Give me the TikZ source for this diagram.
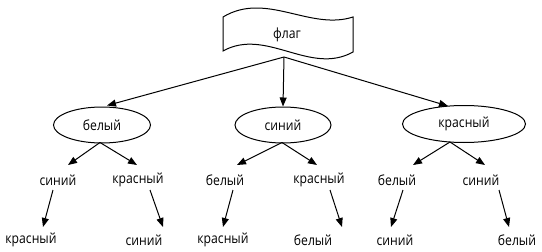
\documentclass[tikz,border=0pt]{standalone}
\usepackage{fontspec}
\setmainfont{Open Sans}[FakeStretch=0.87]
\usetikzlibrary{shapes.geometric,calc,arrows.meta}
\begin{document}
\begin{tikzpicture}[x=1pt,y=-1pt,
  lbl/.style={font=\fontsize{14}{16}\selectfont, inner sep=0pt},
  ell/.style={ellipse, draw, line width=1pt, inner sep=0pt, minimum height=36pt, font=\fontsize{14}{16}\selectfont},
  arr/.style={-{Triangle[length=9pt,width=7pt]}, line width=1pt},
  flagline/.style={draw, line width=1pt}]
\useasboundingbox (0,0) rectangle (542,252);
% flag shape
\path[flagline] (223,17) .. controls (266,-9) and (310,31) .. (353,17) -- (353,52)
  .. controls (310,76) and (266,27) .. (223,51) -- cycle;
\node[lbl] (flag) at (287,35) {флаг};
\coordinate (fb) at (284,57);
% level 1
\node[ell, minimum width=97pt] (e1) at (102,125) {белый};
\node[ell, minimum width=96pt] (e2) at (283,125) {синий};
\node[ell, minimum width=123pt, minimum height=37pt] (e3) at (464,124) {красный};
% level 2
\node[lbl] (s1) at (58,180) {синий};
\node[lbl] (k1) at (138,180) {красный};
\node[lbl] (b2) at (225,180) {белый};
\node[lbl] (k2) at (319,180) {красный};
\node[lbl] (b3) at (397,180) {белый};
\node[lbl] (s3) at (481,180) {синий};
% level 3
\node[lbl] (k11) at (31,240) {красный};
\node[lbl] (s12) at (144,240) {синий};
\node[lbl] (k21) at (223,240) {красный};
\node[lbl] (b22) at (313,240) {белый};
\node[lbl] (s31) at (395,240) {синий};
\node[lbl] (b32) at (517,240) {белый};
% arrows flag -> level 1
\draw[arr] (fb) -- ($(e1.north)+(5,-1)$);
\draw[arr] (fb) -- (e2.north);
\draw[arr] (fb) -- ($(e3.north)+(-16,1)$);
% level 1 -> level 2
\draw[arr] ($(e1.south)+(-2,-1)$) -- ($(s1)+(10,-15)$);
\draw[arr] ($(e1.south)+(-2,-1)$) -- ($(k1)+(-1,-15)$);
\draw[arr] ($(e2.south)+(-1,-1)$) -- ($(b2)+(12,-15)$);
\draw[arr] ($(e2.south)+(-1,-1)$) -- ($(k2)+(-2,-15)$);
\draw[arr] ($(e3.south)+(-14,-1)$) -- ($(b3)+(16,-15)$);
\draw[arr] ($(e3.south)+(-14,-1)$) -- ($(s3)+(4,-15)$);
% level 2 -> level 3
\draw[arr] ($(s1)+(-5,10)$) -- ($(k11)+(12,-13)$);
\draw[arr] ($(k1)+(12,10)$) -- ($(s12)+(19,-13)$);
\draw[arr] ($(b2)+(8,10)$) -- ($(k21)+(0,-13)$);
\draw[arr] ($(k2)+(11,10)$) -- ($(b22)+(29,-13)$);
\draw[arr] ($(b3)+(6,10)$) -- ($(s31)+(-4,-13)$);
\draw[arr] ($(s3)+(18,10)$) -- ($(b32)+(-8,-13)$);
\end{tikzpicture}
\end{document}
